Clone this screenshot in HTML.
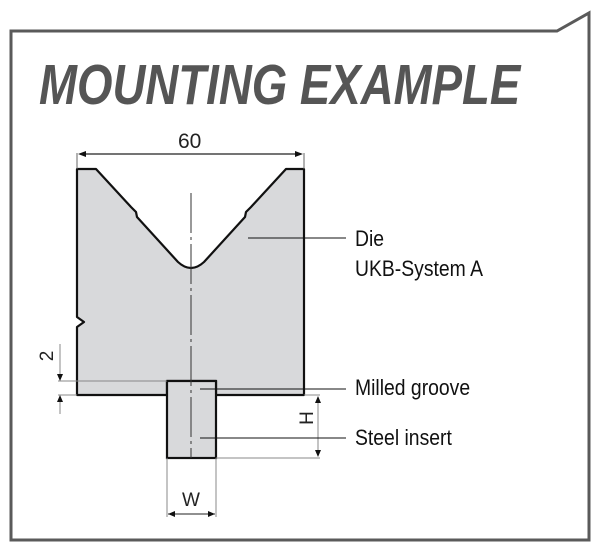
<!DOCTYPE html>
<html><head><style>
html,body{margin:0;padding:0;background:#fff;width:600px;height:553px;overflow:hidden}
svg{display:block}
.t{font-family:"Liberation Sans",sans-serif}
</style></head><body>
<svg width="600" height="553" viewBox="0 0 600 553" xmlns="http://www.w3.org/2000/svg">
<path d="M11 540 L11 31 L557 31 L589 13 L589 540 Z" fill="none" stroke="#5a5a5a" stroke-width="3"/>
<text class="t" x="0" y="0" transform="translate(39,104) scale(0.80,1)" font-size="57" font-weight="bold" font-style="italic" fill="#555">MOUNTING EXAMPLE</text>
<path d="M77 169 L96 169 L131 207 L136 212 L137 217 L178 262 Q191 274 204 262 L245 217 L246 212 L251 207 L286 169 L304 169 L304 395 L216 395 L216 381 L167 381 L167 395 L77 395 L77 327 L84 322 L77 317 Z" fill="#d8d9db" stroke="#111" stroke-width="2.2" stroke-linejoin="round"/>
<rect x="167" y="381" width="49" height="77" fill="#d8d9db" stroke="#111" stroke-width="2.2"/>
<line x1="191" y1="193" x2="191" y2="458" stroke="#333" stroke-width="1" stroke-dasharray="40,4,3,4"/>
<line x1="77" y1="153" x2="77" y2="169" stroke="#666" stroke-width="1"/>
<line x1="304" y1="153" x2="304" y2="169" stroke="#666" stroke-width="1"/>
<line x1="80" y1="154" x2="301" y2="154" stroke="#222" stroke-width="1.2"/>
<path d="M78 154 L86 151 L86 157Z M303 154 L295 151 L295 157Z" fill="#111"/>
<text class="t" x="178" y="148" font-size="21" fill="#222">60</text>
<line x1="58" y1="381" x2="167" y2="381" stroke="#888" stroke-width="1"/>
<line x1="58" y1="395" x2="77" y2="395" stroke="#888" stroke-width="1"/>
<line x1="60" y1="344" x2="60" y2="380" stroke="#888" stroke-width="1"/>
<line x1="60" y1="396" x2="60" y2="414" stroke="#888" stroke-width="1"/>
<path d="M60 381 L57 374 L63 374Z M60 395 L57 402 L63 402Z" fill="#111"/>
<text class="t" transform="translate(53,356) rotate(-90)" font-size="19" fill="#222" text-anchor="middle">2</text>
<line x1="304" y1="395" x2="320" y2="395" stroke="#888" stroke-width="1"/>
<line x1="216" y1="458" x2="320" y2="458" stroke="#888" stroke-width="1"/>
<line x1="318" y1="397" x2="318" y2="456" stroke="#888" stroke-width="1"/>
<path d="M318 396 L315 403 L321 403Z M318 457 L315 450 L321 450Z" fill="#111"/>
<text class="t" transform="translate(313,418) rotate(-90)" font-size="19" fill="#222" text-anchor="middle">H</text>
<line x1="167" y1="458" x2="167" y2="517" stroke="#888" stroke-width="1"/>
<line x1="216" y1="458" x2="216" y2="517" stroke="#888" stroke-width="1"/>
<line x1="168" y1="514" x2="215" y2="514" stroke="#222" stroke-width="1"/>
<path d="M168 514 L175 511 L175 517Z M215 514 L208 511 L208 517Z" fill="#111"/>
<text class="t" x="191" y="506" font-size="19" fill="#222" text-anchor="middle">W</text>
<line x1="248" y1="238" x2="346" y2="238" stroke="#111" stroke-width="1"/>
<line x1="200" y1="389" x2="346" y2="389" stroke="#111" stroke-width="1"/>
<line x1="200" y1="438" x2="346" y2="438" stroke="#111" stroke-width="1"/>
<g class="t" font-size="22" fill="#111">
<text transform="translate(355,246) scale(0.88,1)">Die</text>
<text transform="translate(355,276) scale(0.88,1)">UKB-System A</text>
<text transform="translate(355,395) scale(0.88,1)">Milled groove</text>
<text transform="translate(355,445) scale(0.88,1)">Steel insert</text>
</g>
</svg>
</body></html>
